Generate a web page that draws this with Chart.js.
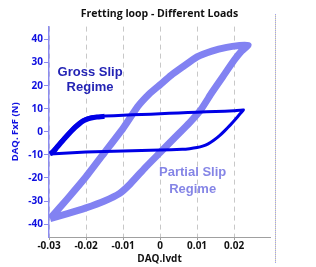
<!DOCTYPE html>
<html>
<head>
<meta charset="utf-8">
<script src="https://cdn.jsdelivr.net/npm/chart.js@4"></script>
<style>
  html, body { margin: 0; padding: 0; background: #fff; }
  #wrap { width: 316px; height: 267px; }
</style>
</head>
<body>
<div id="wrap"><canvas id="chart"></canvas></div>
<script>
// gross slip loop (dark blue), one cycle: rise, flat top, drop, flat bottom
const grossX = [-0.0297, -0.029, -0.028, -0.027, -0.026, -0.025, -0.024, -0.023, -0.022, -0.021, -0.02, -0.019, -0.0175, -0.015, -0.01, -0.005, 0, 0.005, 0.01, 0.015, 0.02, 0.0225,
                0.0215, 0.0203, 0.019, 0.0175, 0.016, 0.0145, 0.013, 0.0115, 0.01, 0.008, 0.006, 0, -0.01, -0.02, -0.0297]
const grossY = [-9.6, -8, -6.2, -4.3, -2.5, -0.7, 1, 2.6, 4, 5.1, 5.8, 6.3, 6.6, 6.8, 7.2, 7.5, 7.8, 8.2, 8.5, 8.8, 9.1, 9.5,
                7.6, 5.3, 3, 0.5, -1.8, -3.7, -5.2, -6.2, -6.8, -7.3, -7.6, -7.9, -8.3, -8.8, -9.6]
// other cycles on the rise make the band thicker there
const grossRiseX = [-0.0297, -0.0288, -0.0279, -0.0269, -0.0259, -0.0249, -0.0239, -0.0229, -0.0219, -0.0209, -0.0198, -0.0186, -0.0171, -0.015]
const grossRiseY = [-9.5, -8.7, -6.9, -5.0, -3.2, -1.4, 0.3, 1.9, 3.3, 4.5, 5.4, 6.0, 6.4, 6.7]

// partial slip loop (light blue)
const partialX = [-0.0297, -0.025, -0.02, -0.015, -0.01, -0.006, -0.003, 0, 0.003, 0.006, 0.01, 0.014, 0.018, 0.0215, 0.0238,
                  0.022, 0.02, 0.017, 0.014, 0.011, 0.008, 0.004, 0, -0.004, -0.008, -0.011, -0.015, -0.02, -0.025, -0.0297]
const partialY = [-37.6, -29, -19.5, -9, 1.5, 11, 16.3, 20.4, 24.5, 28, 32.5, 35, 36.6, 37.4, 37.6,
                  35, 31, 24, 17, 9.5, 4, -2.5, -9, -15.5, -22.5, -26.8, -30, -33, -35.5, -37.6]

const xTicks = [-0.03, -0.02, -0.01, 0, 0.01, 0.02]
const yTicks = [-40, -30, -20, -10, 0, 10, 20, 30, 40]

const toPoints = (xs, ys) => xs.map((x, i) => ({x: x, y: ys[i]}))

const darkBlue = "#0000e6"
const lightBlue = "#8282f2"

//extra text + the dotted frame line on the right
const decor = {
  id: "decor",
  afterDatasetsDraw(chart) {
    const ctx = chart.ctx
    const xs = chart.scales.x, ys = chart.scales.y
    ctx.save()
    ctx.font = "bold 13px 'Liberation Sans', Arial"
    ctx.textAlign = "center"
    ctx.textBaseline = "middle"
    ctx.fillStyle = "#2323b4"
    ctx.fillText("Gross Slip", xs.getPixelForValue(-0.0189), ys.getPixelForValue(25.7))
    ctx.fillText("Regime", xs.getPixelForValue(-0.0189), ys.getPixelForValue(19.1))
    ctx.fillStyle = "#8585e6"
    ctx.fillText("Partial Slip", xs.getPixelForValue(0.0088), ys.getPixelForValue(-17.8))
    ctx.fillText("Regime", xs.getPixelForValue(0.0088), ys.getPixelForValue(-24.8))

    ctx.lineWidth = 1
    ctx.strokeStyle = "#e6e0a8"
    ctx.beginPath()
    ctx.moveTo(275.5, 14)
    ctx.lineTo(275.5, 263)
    ctx.stroke()
    ctx.setLineDash([1, 1])
    ctx.strokeStyle = "#a0a0f0"
    ctx.stroke()
    ctx.restore()
  }
}

const keepTicks = (list) => (scale) => {
  scale.ticks = list.map(v => ({value: v}))
}

const config = {
  type: "scatter",
  data: {
    datasets: [
      {
        data: toPoints(grossX, grossY),
        showLine: true,
        borderColor: darkBlue,
        borderWidth: 3,
        pointRadius: 0,
        tension: 0.1
      },
      {
        data: toPoints(grossRiseX, grossRiseY),
        showLine: true,
        borderColor: darkBlue,
        borderWidth: 5,
        pointRadius: 0,
        tension: 0.1
      },
      {
        data: toPoints(partialX, partialY),
        showLine: true,
        borderColor: lightBlue,
        borderWidth: 7,
        pointRadius: 0,
        tension: 0.15
      }
    ]
  },
  options: {
    animation: false,
    responsive: true,
    maintainAspectRatio: false,
    layout: { padding: { right: 46 } },
    scales: {
      x: {
        min: -0.03,
        max: 0.0297,
        afterBuildTicks: keepTicks(xTicks),
        afterFit: (s) => { s.height = 30 },
        grid: { color: "#c8c8c8", tickLength: 3, tickColor: "#a0a0a0" },
        border: { color: "#a0a0a0", dash: [5, 4] },
        ticks: {
          color: "#111",
          padding: 0,
          maxRotation: 0,
          font: { family: "Open Sans", size: 10, weight: "bold" },
          callback: (v) => String(Math.round(v * 100) / 100)
        },
        title: {
          display: true,
          text: "DAQ.lvdt",
          color: "#111",
          padding: { top: 0, bottom: 2 },
          font: { family: "Open Sans", size: 10, weight: "bold" }
        }
      },
      y: {
        min: -45.6,
        max: 45.6,
        afterBuildTicks: keepTicks(yTicks),
        afterFit: (s) => { s.width = 49 },
        grid: { drawOnChartArea: false, tickLength: 5, color: "#8c8cf0" },
        border: { color: "#8c8cf0", width: 1.5 },
        ticks: {
          color: "#1010e0",
          padding: 1,
          font: { family: "Open Sans", size: 10, weight: "bold" }
        },
        title: {
          display: true,
          text: "DAQ. FxF (N)",
          color: "#1010e0",
          padding: { top: 10, bottom: 0 },
          font: { family: "Open Sans", size: 9.5, weight: "bold" }
        }
      }
    },
    plugins: {
      legend: { display: false },
      tooltip: { enabled: false },
      title: {
        display: true,
        text: "Fretting loop - Different Loads",
        fullSize: false,
        color: "#111",
        padding: { top: 8, bottom: 6 },
        font: { family: "Open Sans", size: 10.5, weight: "bold" }
      }
    }
  },
  plugins: [decor]
}

const loopChart = new Chart(document.getElementById("chart"), config)
</script>
</body>
</html>
